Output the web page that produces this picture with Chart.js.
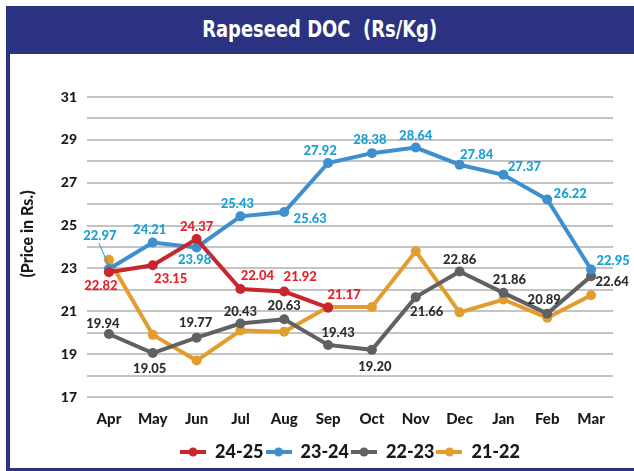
<!DOCTYPE html>
<html>
<head>
<meta charset="utf-8">
<title>Rapeseed DOC</title>
<script src="https://cdn.jsdelivr.net/npm/chart.js@4.4.0/dist/chart.umd.min.js"></script>
<style>
    html, body { margin: 0; padding: 0; background: #fff; }
    body { width: 634px; height: 471px; position: relative; overflow: hidden; }
    .band {
        position: absolute; left: 6px; top: 6px; width: 628px; height: 48px;
        background: #2b3281; color: #fff; text-align: center; line-height: 47px;
    }
    .band span {
        display: inline-block; transform: scaleX(0.78);
        font-family: 'DejaVu Sans', sans-serif; font-weight: bold; font-size: 23px; white-space: pre;
    }
    .leftbar { position: absolute; left: 6px; top: 54px; width: 4px; height: 416px; background: #2b3281; }
    .bottombar { position: absolute; left: 6px; top: 468px; width: 628px; height: 3px; background: #2b3281; }
    #wrap { position: absolute; left: 10px; top: 54px; width: 624px; height: 417px; }
</style>
</head>
<body>
<div class="band"><span>Rapeseed DOC  (Rs/Kg)</span></div>
<div id="wrap"><canvas id="lineChart"></canvas></div>
<div class="leftbar"></div>
<div class="bottombar"></div>
<script>
// データ
const months = ['Apr', 'May', 'Jun', 'Jul', 'Aug', 'Sep', 'Oct', 'Nov', 'Dec', 'Jan', 'Feb', 'Mar'];
const seriesNames = ['24-25', '23-24', '22-23', '21-22'];
const price2425 = [22.82, 23.15, 24.37, 22.04, 21.92, 21.17];
const price2324 = [22.97, 24.21, 23.98, 25.43, 25.63, 27.92, 28.38, 28.64, 27.84, 27.37, 26.22, 22.95];
const price2223 = [19.94, 19.05, 19.77, 20.43, 20.63, 19.43, 19.20, 21.66, 22.86, 21.86, 20.89, 22.64];
const price2122 = [23.4, 19.9, 18.7, 20.1, 20.05, 21.2, 21.2, 23.8, 20.95, 21.55, 20.7, 21.75];
const yTicks = [17, 19, 21, 23, 25, 27, 29, 31];

// 見た目
const lineColors = ['#c9252c', '#3d8fcf', '#5f6163', '#e39d2e'];
const labelColors = ['#e8212a', '#1b9fd6', '#2d2d2d', null];
const FONT = 'Lato, "DejaVu Sans", sans-serif';

// ラベル位置 (点からのずれ)
const labelOffsets = [
    [[-8, 14], [18, 14], [0, -12], [17, -13], [16, -15], [16, -13]],
    [[-9, -33], [-3, -13], [-2, 12], [-3, -13], [26, 7], [-8, -12], [-2, -13], [0, -12], [17, -10], [21, -8], [23, -6], [22, -9]],
    [[-6, -10], [-3, 16], [-1, -15], [0, -12], [0, -13], [10, -12], [3, 17], [11, 15], [0, -12], [6, -13], [-3, -14], [21, 6]],
    null
];

Chart.defaults.font.family = FONT;

// 凡例マーカー (線 + 点)
function legendMarker(color) {
    let c = document.createElement('canvas');
    c.width = 26; c.height = 12;
    let ctx = c.getContext('2d');
    ctx.strokeStyle = color;
    ctx.lineWidth = 4;
    ctx.beginPath();
    ctx.moveTo(0, 6); ctx.lineTo(26, 6);
    ctx.stroke();
    ctx.fillStyle = color;
    ctx.beginPath();
    ctx.arc(13, 6, 4.5, 0, Math.PI * 2);
    ctx.fill();
    return c;
}

// 値ラベルの描画
const valueLabels = {
    id: 'valueLabels',
    afterDatasetsDraw(chart) {
        let ctx = chart.ctx;
        ctx.save();
        ctx.font = '900 13px ' + FONT;
        ctx.textAlign = 'center';
        ctx.textBaseline = 'middle';
        chart.data.datasets.forEach((ds, i) => {
            if (!labelColors[i]) return;
            let meta = chart.getDatasetMeta(i);
            meta.data.forEach((pt, j) => {
                let off = labelOffsets[i][j];
                let x = pt.x + off[0];
                let y = pt.y + off[1];
                // Aprの23-24だけ引き出し線
                if (i === 1 && j === 0) {
                    ctx.strokeStyle = labelColors[i];
                    ctx.lineWidth = 1;
                    ctx.beginPath();
                    ctx.moveTo(x - 1, y + 7);
                    ctx.lineTo(pt.x, pt.y - 3);
                    ctx.stroke();
                }
                ctx.fillStyle = labelColors[i];
                ctx.fillText(ds.data[j].toFixed(2), x, y);
            });
        });
        ctx.restore();
    }
};

// 縦軸タイトル
const yTitle = {
    id: 'yTitle',
    afterDraw(chart) {
        let ctx = chart.ctx;
        ctx.save();
        ctx.translate(18, 180);
        ctx.rotate(-Math.PI / 2);
        ctx.font = '900 16px ' + FONT;
        ctx.fillStyle = '#1a1a1a';
        ctx.textAlign = 'center';
        ctx.textBaseline = 'middle';
        ctx.fillText('(Price in Rs.)', 0, 0);
        ctx.restore();
    }
};

const allSeries = [price2425, price2324, price2223, price2122];

let config = {
    type: 'line',
    data: {
        labels: months,
        datasets: allSeries.map((vals, i) => ({
            label: seriesNames[i],
            data: vals,
            borderColor: lineColors[i],
            backgroundColor: lineColors[i],
            borderWidth: 4,
            pointRadius: 5,
            pointHoverRadius: 5,
            pointBorderWidth: 0,
            tension: 0
        }))
    },
    options: {
        responsive: true,
        maintainAspectRatio: false,
        animation: false,
        events: [],
        layout: { padding: { left: 0, right: 21, top: 43, bottom: 0 } },
        scales: {
            x: {
                offset: true,
                grid: { display: false, drawTicks: false },
                border: { display: false },
                ticks: {
                    padding: 13,
                    color: '#1a1a1a',
                    font: { size: 15, weight: '900' },
                    maxRotation: 0,
                    autoSkip: false
                }
            },
            y: {
                min: yTicks[0],
                max: yTicks[yTicks.length - 1],
                afterFit(scale) { scale.width = 77; },
                grid: { color: '#c4c4c4', lineWidth: 2, drawTicks: false },
                border: { display: false },
                ticks: {
                    stepSize: 1,
                    padding: 10,
                    color: '#1a1a1a',
                    font: { size: 14, weight: '900' },
                    callback: function (v) { return yTicks.includes(v) ? v : ''; }
                }
            }
        },
        plugins: {
            tooltip: { enabled: false },
            legend: {
                position: 'bottom',
                fullSize: false,
                labels: {
                    usePointStyle: true,
                    pointStyleWidth: 26,
                    padding: 2,
                    color: '#1a1a1a',
                    font: { size: 18, weight: '900' },
                    generateLabels(chart) {
                        let items = Chart.defaults.plugins.legend.labels.generateLabels(chart);
                        items.forEach((it, i) => { it.pointStyle = legendMarker(lineColors[i]); });
                        return items;
                    }
                }
            }
        }
    },
    plugins: [valueLabels, yTitle]
};

let chart = new Chart(document.getElementById('lineChart').getContext('2d'), config);
</script>
</body>
</html>
